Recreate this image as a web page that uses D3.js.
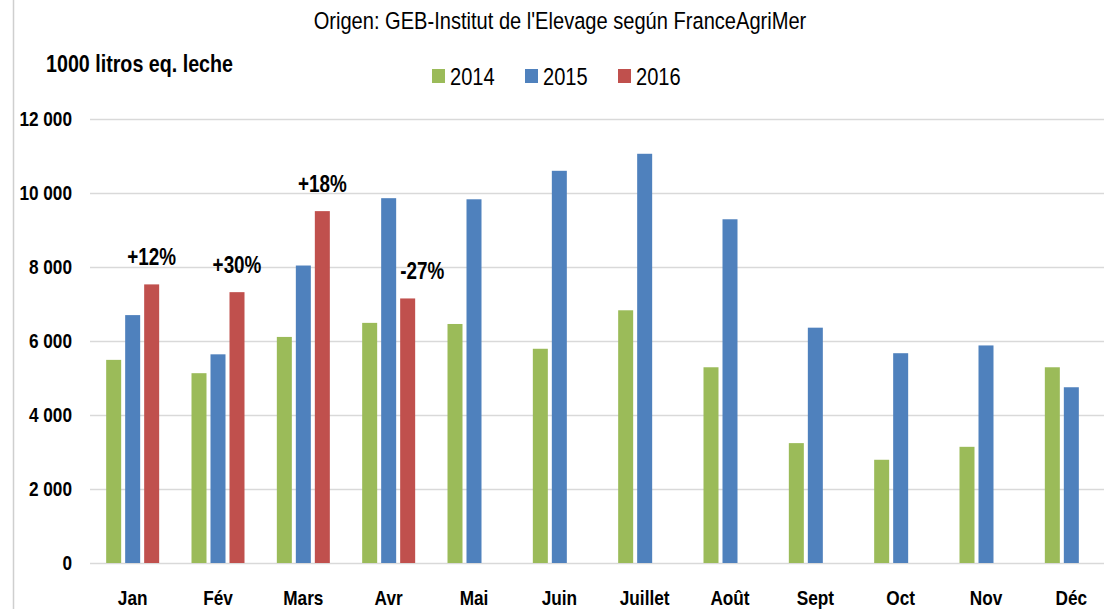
<!DOCTYPE html>
<html>
<head>
<meta charset="utf-8">
<script src="https://cdn.jsdelivr.net/npm/d3@7"></script>
<style>
  html, body { margin: 0; padding: 0; background: #fff; }
  svg { display: block; }
  text { font-family: "Liberation Sans", Arial, sans-serif; fill: #000; }
</style>
</head>
<body>
<svg id="chart" width="1104" height="609"></svg>
<script>
// values (1000 litres milk equivalent)
var months = ["Jan", "Fév", "Mars", "Avr", "Mai", "Juin", "Juillet", "Août", "Sept", "Oct", "Nov", "Déc"];
var years = ["2014", "2015", "2016"];
var y2014 = [5490, 5130, 6110, 6490, 6460, 5790, 6830, 5290, 3240, 2790, 3140, 5290];
var y2015 = [6700, 5640, 8040, 9860, 9830, 10600, 11060, 9290, 6360, 5670, 5880, 4750];
var y2016 = [7530, 7320, 9510, 7150, null, null, null, null, null, null, null, null];
var changes = ["+12%", "+30%", "+18%", "-27%"];
var yTicks = [0, 2000, 4000, 6000, 8000, 10000, 12000];
var colors = ["#9bbb59", "#4f81bd", "#c0504d"];

var series = [y2014, y2015, y2016];

var svg = d3.select("#chart");
var width = +svg.attr("width");
var height = +svg.attr("height");

var plotLeft = 90, plotTop = 119, plotBottom = 563;
var SQ = 0.82; // horizontal squeeze: the source font is a narrow one

// put a text at (x, y) squeezed horizontally
function place(sel, x, y) {
  sel.attr("transform", "scale(" + SQ + ",1)")
    .attr("x", x / SQ)
    .attr("y", y);
  return sel;
}

// left border of the original frame
svg.append("line")
  .attr("x1", 13.5).attr("x2", 13.5)
  .attr("y1", 0).attr("y2", height)
  .attr("stroke", "#cfcfcf").attr("stroke-width", 1.5);

var x0 = d3.scaleBand().domain(months).range([plotLeft, 1114]).padding(0);
var bw = x0.bandwidth();
var x1 = d3.scaleBand().domain(years)
  .range([(bw - 53) / 2, (bw + 53) / 2])
  .paddingInner(4 / 19).paddingOuter(0);
var y = d3.scaleLinear().domain([0, 12000]).range([plotBottom, plotTop]);

var fr = d3.formatLocale({ decimal: ",", thousands: " ", grouping: [3], currency: ["", ""] });
var fmt = fr.format(",d");

// y axis with gridlines
var yAxis = svg.append("g")
  .attr("transform", "translate(" + plotLeft + ",0)")
  .call(d3.axisLeft(y).tickValues(yTicks).tickFormat(fmt)
    .tickSize(-(width - plotLeft)).tickPadding(18));
yAxis.select(".domain").remove();
yAxis.selectAll(".tick line").attr("stroke", "#d9d9d9").attr("stroke-width", 1.5);
yAxis.selectAll(".tick text")
  .style("font-family", "\"Liberation Sans\", Arial, sans-serif")
  .attr("font-size", 21).attr("font-weight", "bold").attr("fill", "#000")
  .attr("transform", "scale(" + SQ + ",1)")
  .attr("x", -18 / SQ);

// bars
var groups = svg.append("g").selectAll("g")
  .data(months)
  .join("g")
  .attr("transform", function(d) { return "translate(" + x0(d) + ",0)"; });

groups.selectAll("rect")
  .data(function(m, i) {
    return years.map(function(yr, k) { return { year: yr, k: k, v: series[k][i] }; })
      .filter(function(d) { return d.v != null; });
  })
  .join("rect")
  .attr("x", function(d) { return x1(d.year); })
  .attr("width", x1.bandwidth())
  .attr("y", function(d) { return y(d.v); })
  .attr("height", function(d) { return y(0) - y(d.v); })
  .attr("fill", function(d) { return colors[d.k]; });

// % change labels above the 2016 bars
svg.append("g").selectAll("text")
  .data(changes)
  .join("text")
  .attr("font-size", 23).attr("font-weight", "bold")
  .text(function(d) { return d; })
  .each(function(c, i) {
    var m = months[i];
    var bx = x0(m) + x1("2016");
    var top16 = y(y2016[i]);
    // if the 2015 bar stands over the label spot, start it at the bar edge instead
    var blocked = y(y2015[i]) < top16 - 30;
    place(d3.select(this), blocked ? bx : bx + x1.bandwidth() / 2, top16 - 19)
      .attr("text-anchor", blocked ? "start" : "middle");
  });

// month labels
svg.append("g").selectAll("text")
  .data(months)
  .join("text")
  .attr("text-anchor", "middle")
  .attr("font-size", 21).attr("font-weight", "bold")
  .text(function(d) { return d; })
  .each(function(d) { place(d3.select(this), x0(d) + bw / 2, 605); });

// title and unit
place(svg.append("text"), 560, 29)
  .attr("text-anchor", "middle")
  .attr("font-size", 24.5)
  .text("Origen: GEB-Institut de l'Elevage según FranceAgriMer");

place(svg.append("text"), 46, 72)
  .attr("font-size", 24).attr("font-weight", "bold")
  .text("1000 litros eq. leche");

// legend
var legend = svg.append("g").selectAll("g")
  .data(years)
  .join("g")
  .attr("transform", function(d, i) { return "translate(" + (432 + i * 93) + ",69)"; });
legend.append("rect")
  .attr("width", 13).attr("height", 14)
  .attr("fill", function(d, i) { return colors[i]; });
legend.append("text")
  .attr("font-size", 24.5)
  .text(function(d) { return d; })
  .each(function() { place(d3.select(this), 18, 15.5); });
</script>
</body>
</html>
